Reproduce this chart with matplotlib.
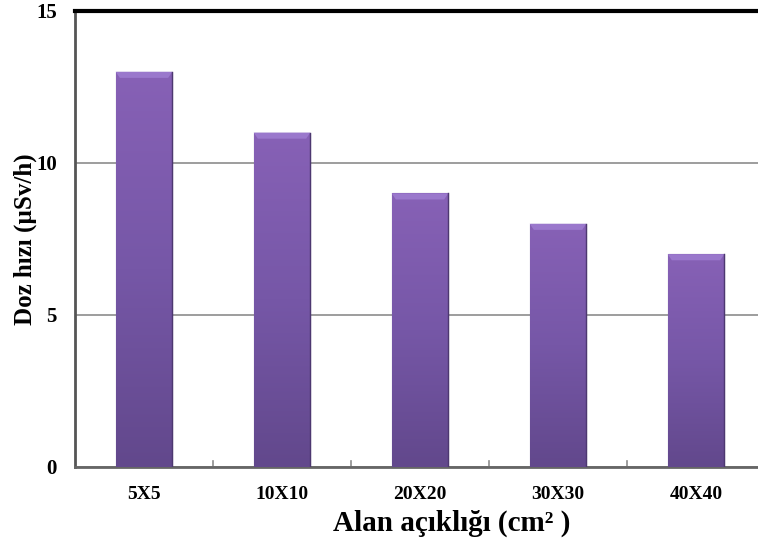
import numpy as np
import matplotlib.pyplot as plt
from matplotlib.colors import LinearSegmentedColormap

alan = ['5X5', '10X10', '20X20', '30X30', '40X40']
doz = [13, 11, 9, 8, 7]

plt.rcParams['font.family'] = ['Liberation Serif', 'DejaVu Serif']
plt.rcParams['font.weight'] = 'bold'

fig = plt.figure(figsize=(7.58, 5.42), dpi=100)
ax = fig.add_axes([75/758, (542-467)/542, 690/758, 456/542])

x = np.arange(len(alan))
bars = ax.bar(x, doz, width=0.41, color='#7a58a8', edgecolor='#5a4280',
              linewidth=0.8, zorder=3)

# vertical shading inside each bar
cmap = LinearSegmentedColormap.from_list('mor', ['#62488c', '#7657a7', '#8761b6'])
grad = np.linspace(0, 1, 256).reshape(-1, 1)
for b in bars:
    x0, w, h = b.get_x(), b.get_width(), b.get_height()
    im = ax.imshow(grad, extent=(x0, x0 + w, 0, h), origin='lower', cmap=cmap,
                   aspect='auto', zorder=3.5, interpolation='bilinear')
    im.set_clip_path(b)
    # light bevel along the top edge
    ax.fill([x0, x0 + w, x0 + w - 0.03, x0 + 0.03],
            [h, h, h - 0.2, h - 0.2], color='#9a78cc', lw=0, zorder=4)
    ax.plot([x0 + w, x0 + w], [0, h], color='#4d3870', lw=1.0, zorder=4)

ax.set_xlim(-0.5, 4.5)
ax.set_ylim(0, 15)
ax.set_yticks([0, 5, 10, 15])
ax.yaxis.grid(True, color='#8c8c8c', lw=1.2, zorder=0)
ax.axhline(15, color='black', lw=3, zorder=5, clip_on=False)
ax.tick_params(axis='y', length=0, pad=13, labelsize=15)
ax.set_xticks(x)
ax.set_xticklabels(alan)
ax.tick_params(axis='x', length=0, pad=14, labelsize=14)
for xb in np.arange(0.5, 4.6, 1):
    ax.plot([xb, xb], [0, 0.2], color='#8c8c8c', lw=1.2, zorder=2)

for side in ['top', 'right']:
    ax.spines[side].set_visible(False)
ax.spines['left'].set_color('#555555')
ax.spines['left'].set_linewidth(2)
ax.spines['bottom'].set_color('#666666')
ax.spines['bottom'].set_linewidth(2)

ax.set_xlabel('Alan açıklığı (cm² )', fontsize=21, fontweight='bold')
ax.xaxis.set_label_coords(377/690, -43/456)
ax.set_ylabel('Doz hızı (µSv/h)', fontsize=18, fontweight='bold')
ax.yaxis.set_label_coords(-38/690, 0.5)

fig.savefig('out.png', dpi=100)
